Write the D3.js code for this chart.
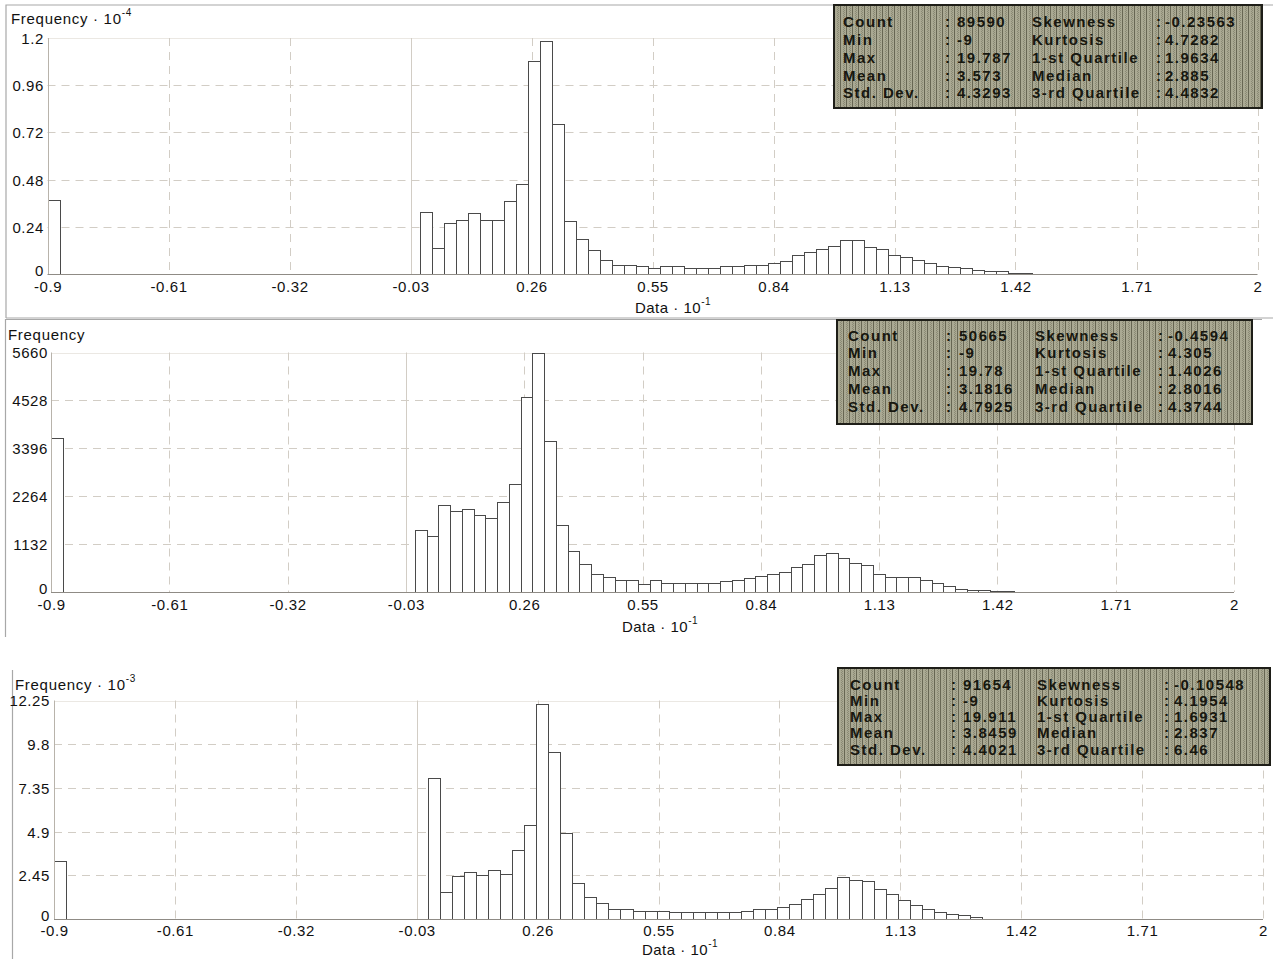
<!DOCTYPE html>
<html>
<head>
<meta charset="utf-8">
<script src="https://cdn.jsdelivr.net/npm/d3@7"></script>
<style>
  body { margin: 0; background: #fff; }
  svg { display: block; font-family: "Liberation Sans", Arial, sans-serif; }
</style>
</head>
<body>
<svg id="chart" width="1274" height="959"></svg>
<script>
// ---- shared x axis (Data · 10^-1) ----
const xTickValues = [-0.9, -0.61, -0.32, -0.03, 0.26, 0.55, 0.84, 1.13, 1.42, 1.71, 2];
const xTickLabels = ["-0.9", "-0.61", "-0.32", "-0.03", "0.26", "0.55", "0.84", "1.13", "1.42", "1.71", "2"];
const xDomain = [-0.9, 2];
const binCount = 100;

// ---- histogram 1 (Frequency · 10^-4) ----
const yTicks1 = [0, 0.24, 0.48, 0.72, 0.96, 1.2];
const yTickLabels1 = ["0", "0.24", "0.48", "0.72", "0.96", "1.2"];
const freq1 = [
  0.376, 0, 0, 0, 0, 0, 0, 0, 0, 0,
  0, 0, 0, 0, 0, 0, 0, 0, 0, 0,
  0, 0, 0, 0, 0, 0, 0, 0, 0, 0,
  0, 0.314, 0.131, 0.259, 0.273, 0.309, 0.273, 0.273, 0.370, 0.459,
  1.081, 1.183, 0.761, 0.271, 0.176, 0.120, 0.073, 0.046, 0.046, 0.039,
  0.032, 0.039, 0.039, 0.032, 0.032, 0.032, 0.039, 0.039, 0.046, 0.046,
  0.056, 0.066, 0.095, 0.110, 0.129, 0.141, 0.171, 0.171, 0.136, 0.129,
  0.097, 0.085, 0.073, 0.056, 0.039, 0.034, 0.029, 0.020, 0.015, 0.015,
  0.005, 0.003, 0, 0, 0, 0, 0, 0, 0, 0,
  0, 0, 0, 0, 0, 0, 0, 0, 0, 0
];
const statNames1 = ["Count", "Min", "Max", "Mean", "Std. Dev."];
const statValues1 = ["89590", "-9", "19.787", "3.573", "4.3293"];
const shapeNames1 = ["Skewness", "Kurtosis", "1-st Quartile", "Median", "3-rd Quartile"];
const shapeValues1 = ["-0.23563", "4.7282", "1.9634", "2.885", "4.4832"];

// ---- histogram 2 (Frequency) ----
const yTicks2 = [0, 1132, 2264, 3396, 4528, 5660];
const yTickLabels2 = ["0", "1132", "2264", "3396", "4528", "5660"];
const freq2 = [
  3647, 0, 0, 0, 0, 0, 0, 0, 0, 0,
  0, 0, 0, 0, 0, 0, 0, 0, 0, 0,
  0, 0, 0, 0, 0, 0, 0, 0, 0, 0,
  0, 1472, 1323, 2064, 1906, 1961, 1812, 1749, 2127, 2545,
  4616, 5641, 3576, 1576, 969, 662, 418, 354, 276, 276,
  197, 276, 205, 205, 205, 205, 205, 252, 276, 323,
  386, 418, 473, 599, 662, 874, 930, 804, 693, 646,
  425, 354, 354, 354, 276, 220, 149, 78, 47, 40,
  20, 15, 0, 0, 0, 0, 0, 0, 0, 0,
  0, 0, 0, 0, 0, 0, 0, 0, 0, 0
];
const statNames2 = ["Count", "Min", "Max", "Mean", "Std. Dev."];
const statValues2 = ["50665", "-9", "19.78", "3.1816", "4.7925"];
const shapeNames2 = ["Skewness", "Kurtosis", "1-st Quartile", "Median", "3-rd Quartile"];
const shapeValues2 = ["-0.4594", "4.305", "1.4026", "2.8016", "4.3744"];

// ---- histogram 3 (Frequency · 10^-3) ----
const yTicks3 = [0, 2.45, 4.9, 7.35, 9.8, 12.25];
const yTickLabels3 = ["0", "2.45", "4.9", "7.35", "9.8", "12.25"];
const freq3 = [
  3.27, 0, 0, 0, 0, 0, 0, 0, 0, 0,
  0, 0, 0, 0, 0, 0, 0, 0, 0, 0,
  0, 0, 0, 0, 0, 0, 0, 0, 0, 0,
  0, 7.92, 1.51, 2.39, 2.62, 2.45, 2.73, 2.54, 3.85, 5.25,
  12.07, 9.36, 4.82, 2.03, 1.23, 0.90, 0.58, 0.58, 0.44, 0.45,
  0.45, 0.39, 0.39, 0.39, 0.39, 0.39, 0.39, 0.47, 0.54, 0.54,
  0.69, 0.82, 1.12, 1.42, 1.74, 2.33, 2.19, 2.11, 1.66, 1.42,
  1.04, 0.80, 0.58, 0.39, 0.30, 0.20, 0.11, 0, 0, 0,
  0, 0, 0, 0, 0, 0, 0, 0, 0, 0,
  0, 0, 0, 0, 0, 0, 0, 0, 0, 0
];
const statNames3 = ["Count", "Min", "Max", "Mean", "Std. Dev."];
const statValues3 = ["91654", "-9", "19.911", "3.8459", "4.4021"];
const shapeNames3 = ["Skewness", "Kurtosis", "1-st Quartile", "Median", "3-rd Quartile"];
const shapeValues3 = ["-0.10548", "4.1954", "1.6931", "2.837", "6.46"];

// ---- page layout for the three stacked histograms ----
const panels = [
  {
    freq: freq1, yTicks: yTicks1, yLabels: yTickLabels1, yExp: "-4",
    dataMin: +statValues1[1], dataMax: +statValues1[2],
    names: statNames1, values: statValues1, names2: shapeNames1, values2: shapeValues1,
    plot: { left: 47.5, right: 1257.5, top: 38, bottom: 274 },
    yTitle: { x: 11, y: 24 }, xTitleX: 673, xTitleY: 313, xLabelY: 292, yLabelX: 44,
    box: { x: 834, y: 5, w: 428, h: 103, rows: [22, 40, 58, 76, 93], cols: [9, 111, 123, 198, 322, 331] },
    frame: "M6,318V5H1273M6,318H1273"
  },
  {
    freq: freq2, yTicks: yTicks2, yLabels: yTickLabels2, yExp: null,
    dataMin: +statValues2[1], dataMax: +statValues2[2],
    names: statNames2, values: statValues2, names2: shapeNames2, values2: shapeValues2,
    plot: { left: 51, right: 1234, top: 352.5, bottom: 592 },
    yTitle: { x: 8, y: 340 }, xTitleX: 660, xTitleY: 632, xLabelY: 610, yLabelX: 48,
    box: { x: 837, y: 320, w: 415, h: 104, rows: [21, 38, 56, 74, 92], cols: [11, 109, 122, 198, 321, 331] },
    frame: "M5.5,637V319.5H1262"
  },
  {
    freq: freq3, yTicks: yTicks3, yLabels: yTickLabels3, yExp: "-3",
    dataMin: +statValues3[1], dataMax: +statValues3[2],
    names: statNames3, values: statValues3, names2: shapeNames3, values2: shapeValues3,
    plot: { left: 54, right: 1263, top: 700.5, bottom: 919 },
    yTitle: { x: 15, y: 690 }, xTitleX: 680, xTitleY: 955, xLabelY: 936, yLabelX: 50,
    box: { x: 838, y: 668, w: 432, h: 97, rows: [22, 38, 54, 70, 87], cols: [12, 113, 125, 199, 326, 336] },
    frame: "M12.5,670V959"
  }
];

const svg = d3.select("#chart");

// dithered olive fill for the statistics boxes
const defs = svg.append("defs");
const pat = defs.append("pattern").attr("id", "dither")
  .attr("width", 6).attr("height", 2).attr("patternUnits", "userSpaceOnUse");
pat.append("rect").attr("width", 6).attr("height", 2).attr("fill", "#aaa993");
pat.append("rect").attr("x", 0).attr("width", 1).attr("height", 2).attr("fill", "#676653");
pat.append("rect").attr("x", 3).attr("y", 0).attr("width", 1).attr("height", 1).attr("fill", "#8a8974");
pat.append("rect").attr("x", 4).attr("y", 1).attr("width", 1).attr("height", 1).attr("fill", "#8a8974");

const gridColor = "#d2cdc5";
const axisColor = "#b8b3ab";
const labelColor = "#111";

panels.forEach(p => {
  const g = svg.append("g");
  const { left, right, top, bottom } = p.plot;
  const x = d3.scaleLinear().domain(xDomain).range([left, right]);
  const yMax = p.yTicks[p.yTicks.length - 1];
  const y = d3.scaleLinear().domain([0, yMax]).range([bottom, top]);

  // panel frame
  g.append("path").attr("d", p.frame).attr("fill", "none")
    .attr("stroke", "#a8a8a8").attr("stroke-width", 1.2);

  // horizontal grid
  g.selectAll(".hgrid").data(p.yTicks.slice(1, -1)).join("line")
    .attr("x1", left).attr("x2", right)
    .attr("y1", d => Math.round(y(d)) + 0.5).attr("y2", d => Math.round(y(d)) + 0.5)
    .attr("stroke", gridColor).attr("stroke-dasharray", "8,6");
  // top edge of the plot
  g.append("line").attr("x1", left).attr("x2", right)
    .attr("y1", Math.round(top) + 0.5).attr("y2", Math.round(top) + 0.5)
    .attr("stroke", "#ebe8e3");

  // vertical grid
  g.selectAll(".vgrid").data(xTickValues.slice(1)).join("line")
    .attr("x1", d => Math.round(x(d)) + 0.5).attr("x2", d => Math.round(x(d)) + 0.5)
    .attr("y1", top).attr("y2", bottom)
    .attr("stroke", gridColor)
    .attr("stroke-dasharray", d => d === -0.03 ? null : "8,6");

  // bars
  const w = (p.dataMax - p.dataMin) / binCount;
  const bins = p.freq.map((v, i) => ({
    x0: (p.dataMin + i * w) / 10,
    x1: (p.dataMin + (i + 1) * w) / 10,
    v
  })).filter(d => d.v > 0);
  g.selectAll(".bar").data(bins).join("rect")
    .attr("x", d => Math.round(x(d.x0)) + 0.5)
    .attr("width", d => Math.round(x(d.x1)) - Math.round(x(d.x0)))
    .attr("y", d => Math.round(y(d.v)) + 0.5)
    .attr("height", d => Math.round(bottom) - Math.round(y(d.v)))
    .attr("fill", "#fff").attr("stroke", "#4a4a4a").attr("stroke-width", 1);

  // axis lines
  g.append("line").attr("x1", Math.round(left) + 0.5).attr("x2", Math.round(left) + 0.5)
    .attr("y1", top).attr("y2", bottom).attr("stroke", axisColor);
  g.append("line").attr("x1", left).attr("x2", right)
    .attr("y1", Math.round(bottom) + 0.5).attr("y2", Math.round(bottom) + 0.5)
    .attr("stroke", "#8f8b85");

  // x tick labels
  const xAxis = d3.axisBottom(x).tickValues(xTickValues)
    .tickFormat((d, i) => xTickLabels[i]).tickSize(0).tickPadding(0);
  const xg = g.append("g").attr("transform", `translate(0,${p.xLabelY})`).call(xAxis);
  xg.select(".domain").remove();
  xg.selectAll("text").attr("dy", 0).attr("y", 0)
    .attr("font-size", 15).attr("letter-spacing", 0.6)
    .attr("font-family", "Liberation Sans, Arial, sans-serif").attr("fill", labelColor);

  // y tick labels (the zero label sits slightly above the baseline)
  const yAxis = d3.axisLeft(y).tickValues(p.yTicks)
    .tickFormat((d, i) => p.yLabels[i]).tickSize(0).tickPadding(0);
  const yg = g.append("g").attr("transform", `translate(${p.yLabelX},0)`).call(yAxis);
  yg.select(".domain").remove();
  yg.selectAll("text").attr("x", 0).attr("dy", "0.36em")
    .attr("y", d => d === 0 ? -4 : 0)
    .attr("font-size", 15).attr("letter-spacing", 0.6)
    .attr("font-family", "Liberation Sans, Arial, sans-serif").attr("fill", labelColor);

  // axis titles
  const yt = g.append("text").attr("x", p.yTitle.x).attr("y", p.yTitle.y)
    .attr("font-size", 15).attr("letter-spacing", 0.7).attr("fill", labelColor)
    .text(p.yExp ? "Frequency \u00b7 10" : "Frequency");
  if (p.yExp) yt.append("tspan").attr("dy", -8).attr("font-size", 10).text(p.yExp);

  const xt = g.append("text").attr("x", p.xTitleX).attr("y", p.xTitleY)
    .attr("text-anchor", "middle").attr("font-size", 15).attr("letter-spacing", 0.5)
    .attr("fill", labelColor).text("Data \u00b7 10");
  xt.append("tspan").attr("dy", -8).attr("font-size", 10).text("-1");

  // statistics box
  const b = p.box;
  const bg = g.append("g").attr("transform", `translate(${b.x},${b.y})`);
  bg.append("rect").attr("width", b.w).attr("height", b.h)
    .attr("fill", "url(#dither)").attr("stroke", "#1e1e18").attr("stroke-width", 2);
  const rows = d3.range(5);
  const cols = [
    { text: i => p.names[i], x: b.cols[0] },
    { text: () => ":", x: b.cols[1] },
    { text: i => p.values[i], x: b.cols[2] },
    { text: i => p.names2[i], x: b.cols[3] },
    { text: () => ":", x: b.cols[4] },
    { text: i => p.values2[i], x: b.cols[5] }
  ];
  cols.forEach(c => {
    bg.selectAll(null).data(rows).join("text")
      .attr("x", c.x).attr("y", i => b.rows[i])
      .attr("font-size", 15).attr("font-weight", "bold").attr("letter-spacing", 1.5)
      .attr("fill", "#17170f").text(i => c.text(i));
  });
});
</script>
</body>
</html>
